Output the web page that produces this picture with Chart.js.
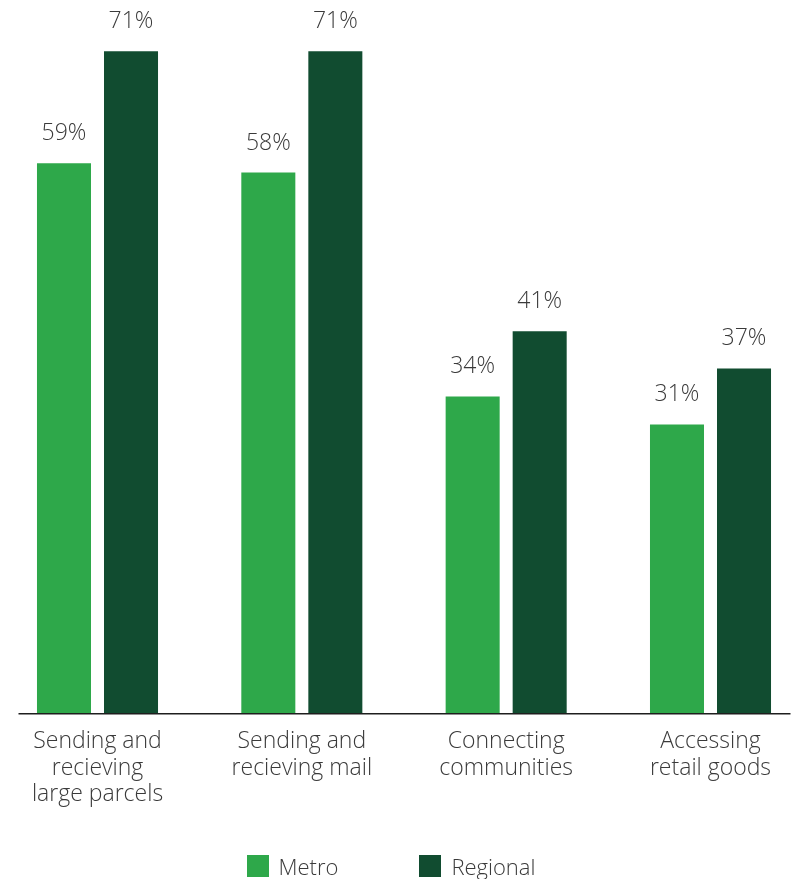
<!DOCTYPE html>
<html lang="en">
  <head>
    <meta charset="UTF-8" />
    <meta name="viewport" content="width=device-width, initial-scale=1.0" />
    <title>Metro vs Regional</title>
    <script src="https://cdn.jsdelivr.net/npm/chart.js"></script>
    <style>
      html,
      body {
        margin: 0;
        padding: 0;
        background: #fff;
      }
      #wrap {
        position: relative;
        width: 793px;
        height: 879px;
      }
      #legend {
        position: absolute;
        left: 0;
        top: 855px;
        width: 100%;
        box-sizing: border-box;
        padding-right: 11px;
        display: flex;
        justify-content: center;
        font-family: "Open Sans", sans-serif;
        font-weight: 300;
        font-size: 22px;
        line-height: 22px;
        color: #3a3a3a;
      }
      .item {
        display: flex;
        align-items: center;
      }
      .item + .item {
        margin-left: 81px;
      }
      .swatch {
        width: 22px;
        height: 22px;
        margin-right: 10px;
      }
    </style>
  </head>
  <body>
    <div id="wrap">
      <canvas id="chart" width="793" height="879"></canvas>
      <div id="legend"></div>
    </div>

    <script>
      // Data
      const categories = [
        ["Sending and", "recieving", "large parcels"],
        ["Sending and", "recieving mail"],
        ["Connecting", "communities"],
        ["Accessing", "retail goods"],
      ];
      const seriesNames = ["Metro", "Regional"];
      const metro = [59, 58, 34, 31];
      const regional = [71, 71, 41, 37];

      const colors = ["#2ea84a", "#114c30"];
      const textColor = "#3a3a3a";
      const fontFamily = "'Open Sans', sans-serif";

      // percent labels above each bar
      const valueLabels = {
        id: "valueLabels",
        afterDatasetsDraw(chart) {
          const ctx = chart.ctx;
          ctx.save();
          ctx.font = "300 23px " + fontFamily;
          ctx.fillStyle = textColor;
          ctx.textAlign = "center";
          ctx.textBaseline = "alphabetic";
          chart.data.datasets.forEach((ds, i) => {
            chart.getDatasetMeta(i).data.forEach((bar, j) => {
              ctx.fillText(ds.data[j] + "%", bar.x, bar.y - 23);
            });
          });
          ctx.restore();
        },
      };

      // baseline runs a bit past the outer bars
      const baseline = {
        id: "baseline",
        afterDatasetsDraw(chart) {
          const ctx = chart.ctx;
          const area = chart.chartArea;
          const y = chart.scales.y.getPixelForValue(0);
          ctx.save();
          ctx.strokeStyle = "#1e1e1e";
          ctx.lineWidth = 1.5;
          ctx.beginPath();
          ctx.moveTo(area.left - 79, y);
          ctx.lineTo(area.right + 80, y);
          ctx.stroke();
          ctx.restore();
        },
      };

      const ctx = document.getElementById("chart").getContext("2d");
      const chart = new Chart(ctx, {
        type: "bar",
        data: {
          labels: categories,
          datasets: [
            {
              label: seriesNames[0],
              data: metro,
              backgroundColor: colors[0],
            },
            {
              label: seriesNames[1],
              data: regional,
              backgroundColor: colors[1],
            },
          ],
        },
        options: {
          responsive: false,
          animation: false,
          layout: {
            padding: { left: 97.5, right: 82.5, top: 14, bottom: 64 },
          },
          datasets: {
            bar: {
              categoryPercentage: 0.656,
              barPercentage: 0.806,
              clip: false,
            },
          },
          scales: {
            x: {
              offset: false,
              grid: { display: false },
              border: { display: false },
              ticks: {
                autoSkip: false,
                maxRotation: 0,
                padding: 7,
                color: textColor,
                font: { family: fontFamily, size: 23, weight: 300, lineHeight: 1.15 },
              },
            },
            y: {
              display: false,
              min: 0,
              max: 75,
            },
          },
          plugins: {
            legend: { display: false },
            tooltip: { enabled: false },
          },
        },
        plugins: [baseline, valueLabels],
      });

      // Legend
      const legend = document.getElementById("legend");
      chart.data.datasets.forEach((ds) => {
        const item = document.createElement("div");
        item.className = "item";
        const sw = document.createElement("span");
        sw.className = "swatch";
        sw.style.background = ds.backgroundColor;
        item.appendChild(sw);
        item.appendChild(document.createTextNode(ds.label));
        legend.appendChild(item);
      });
    </script>
  </body>
</html>
